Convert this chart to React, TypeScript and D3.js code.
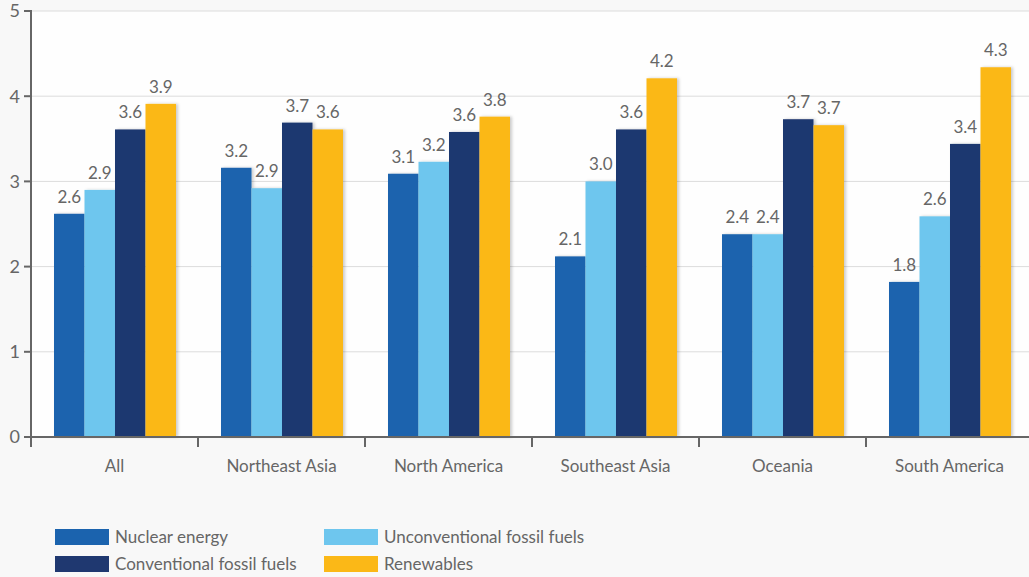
import React from "react";
import * as d3 from "d3";

const categories = ["All", "Northeast Asia", "North America", "Southeast Asia", "Oceania", "South America"];
const seriesNames = ["Nuclear energy", "Unconventional fossil fuels", "Conventional fossil fuels", "Renewables"];
const seriesColors = ["#1b63ae", "#6ec6ee", "#1f3870", "#fbb817"];

const nuclear = [2.62, 3.16, 3.09, 2.12, 2.38, 1.82];
const unconventional = [2.9, 2.92, 3.23, 3.0, 2.38, 2.59];
const conventional = [3.61, 3.69, 3.58, 3.61, 3.73, 3.44];
const renewables = [3.91, 3.61, 3.76, 4.21, 3.66, 4.34];

const yTicks = [0, 1, 2, 3, 4, 5];

const W = 1029;
const H = 577;
const plot = { left: 31, right: 1029, top: 11, bottom: 437 };
const FONT = "Lato, 'Open Sans', sans-serif";
const TEXT = "#666";

export default function App() {
  const series = [nuclear, unconventional, conventional, renewables];
  const x = d3.scaleBand<string>().domain(categories).range([plot.left, plot.left + 6 * 167]);
  const barW = 30.5;
  const groupW = barW * series.length;
  const groupOffset = 23;
  const inner = d3.scaleBand<number>().domain(d3.range(series.length)).range([groupOffset, groupOffset + groupW]);
  const y = d3.scaleLinear().domain([0, 5]).range([plot.bottom, plot.top]);
  const y0 = y(0);

  const legendPos = [
    { x: 55, y: 529 },
    { x: 324, y: 529 },
    { x: 55, y: 556 },
    { x: 324, y: 556 },
  ];

  const boundaries = d3.range(categories.length + 1).map((i) => plot.left + i * x.bandwidth());

  return (
    <svg width={W} height={H} style={{ position: "absolute", left: 0, top: 0, background: "#f8f8f8" }} fontFamily={FONT}>
      <defs>
        <filter id="barShadow" x="-20%" y="-10%" width="150%" height="120%">
          <feDropShadow dx="2" dy="0" stdDeviation="1.8" floodColor="#000" floodOpacity="0.2" />
        </filter>
      </defs>
      <rect x={plot.left} y={plot.top} width={W - plot.left} height={y0 - plot.top} fill="#fefefe" />
      {/* gridlines */}
      {yTicks.filter((t) => t > 0).map((t) => (
        <line key={t} x1={plot.left} x2={W} y1={y(t)} y2={y(t)} stroke="#dcdcdc" strokeWidth={1} />
      ))}
      {/* bars */}
      {categories.map((c, ci) => (
        <g key={c}>
          {series.map((s, si) => (
            <rect
              key={si}
              x={(x(c) as number) + (inner(si) as number)}
              y={y(s[ci])}
              width={inner.bandwidth()}
              height={y0 - y(s[ci])}
              fill={seriesColors[si]}
              filter="url(#barShadow)"
            />
          ))}
          {series.map((s, si) => (
            <text
              key={"l" + si}
              x={(x(c) as number) + (inner(si) as number) + inner.bandwidth() / 2}
              y={y(s[ci]) - 11}
              textAnchor="middle"
              fontSize={17}
              fill={TEXT}
            >
              {d3.format(".1f")(s[ci])}
            </text>
          ))}
        </g>
      ))}
      {/* y axis */}
      <line x1={plot.left} x2={plot.left} y1={plot.top - 1} y2={y0 + 10} stroke="#666" strokeWidth={2} />
      {yTicks.map((t) => (
        <g key={t}>
          <line x1={plot.left - 7} x2={plot.left} y1={y(t)} y2={y(t)} stroke="#666" strokeWidth={2} />
          <text x={plot.left - 11} y={y(t)} dy="0.36em" textAnchor="end" fontSize={18} fill={TEXT}>
            {t}
          </text>
        </g>
      ))}
      {/* x axis */}
      <line x1={plot.left} x2={W} y1={y0} y2={y0} stroke="#666" strokeWidth={2} />
      {boundaries.map((b, i) => (
        <line key={i} x1={b} x2={b} y1={y0} y2={y0 + 10} stroke="#666" strokeWidth={2} />
      ))}
      {categories.map((c) => (
        <text key={c} x={(x(c) as number) + x.bandwidth() / 2} y={y0 + 35} textAnchor="middle" fontSize={17} fill={TEXT}>
          {c}
        </text>
      ))}
      {/* legend */}
      {seriesNames.map((n, i) => (
        <g key={n} transform={`translate(${legendPos[i].x},${legendPos[i].y})`}>
          <rect width={54} height={16} fill={seriesColors[i]} />
          <text x={60} y={8} dy="0.36em" fontSize={17} fill={TEXT}>
            {n}
          </text>
        </g>
      ))}
    </svg>
  );
}
